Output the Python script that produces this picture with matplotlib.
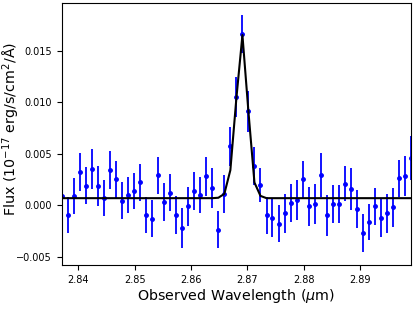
import numpy as np
import matplotlib
matplotlib.use("Agg")
import matplotlib.pyplot as plt

# observed wavelength (micron)
wave = [2.83710, 2.83817, 2.83924, 2.84030, 2.84137, 2.84244, 2.84351, 2.84457,
        2.84564, 2.84671, 2.84778, 2.84884, 2.84991, 2.85098, 2.85205, 2.85311,
        2.85418, 2.85525, 2.85632, 2.85738, 2.85845, 2.85952, 2.86059, 2.86165,
        2.86272, 2.86379, 2.86486, 2.86592, 2.86699, 2.86806, 2.86913, 2.87019,
        2.87126, 2.87233, 2.87340, 2.87446, 2.87553, 2.87660, 2.87767, 2.87873,
        2.87980, 2.88087, 2.88194, 2.88300, 2.88407, 2.88514, 2.88621, 2.88727,
        2.88834, 2.88941, 2.89048, 2.89154, 2.89261, 2.89368, 2.89475, 2.89581,
        2.89688, 2.89795, 2.89902]

# flux (1e-17 erg/s/cm2/A)
flux = [0.0009, -0.00094, 0.0009, 0.0032, 0.0019, 0.0035, 0.0019, 0.0007,
        0.0034, 0.0025, 0.00045, 0.0010, 0.0014, 0.0022, -0.00094, -0.0013,
        0.0029, 0.0003, 0.0012, -0.00094, -0.0022, -0.0001, 0.0014, 0.0010,
        0.0028, 0.0017, -0.0024, 0.0011, 0.0057, 0.0105, 0.0166, 0.0091,
        0.0038, 0.0020, -0.00097, -0.0012, -0.0018, -0.0008, 0.0002, 0.0005,
        0.0025, -0.0001, 0.0001, 0.0029, -0.0010, 0.0001, 0.0001, 0.0021,
        0.0016, -0.0004, -0.0027, -0.0016, -0.0001, -0.0012, -0.0008, -0.0002,
        0.0026, 0.0028, 0.0046]

err = [0.00186, 0.00175, 0.00175, 0.00183, 0.00183, 0.00196, 0.00194, 0.00178,
       0.00183, 0.00178, 0.00175, 0.00178, 0.00176, 0.00178, 0.00178, 0.00178,
       0.00178, 0.00181, 0.00178, 0.00183, 0.00191, 0.00189, 0.00184, 0.00173,
       0.00189, 0.00194, 0.00180, 0.00183, 0.00193, 0.00194, 0.00186, 0.00197,
       0.00184, 0.00165, 0.00178, 0.00184, 0.00181, 0.00186, 0.00186, 0.00194,
       0.00183, 0.00189, 0.00194, 0.00215, 0.00202, 0.00184, 0.00183, 0.00173,
       0.00202, 0.00186, 0.00181, 0.00173, 0.00181, 0.00191, 0.00188, 0.00191,
       0.00183, 0.00194, 0.00214]

# gaussian + continuum model evaluated on the same grid
cont = 0.00068
line_part = [0.00072, 0.0011, 0.0034, 0.0104, 0.0165, 0.0091, 0.0022, 0.0009]
model = [cont] * 26 + line_part + [cont] * 25

fig = plt.figure(figsize=(4.15, 3.11), dpi=100)
ax = fig.add_subplot(111)
fig.subplots_adjust(left=0.149, right=0.990, top=0.990, bottom=0.148)

ax.errorbar(wave, flux, yerr=err, fmt='o', color='blue', ms=2.5,
            elinewidth=1.3, capsize=0, zorder=2)
ax.plot(wave, model, color='black', lw=1.5, zorder=3)

ax.set_xlim(2.8371, 2.8990)
ax.set_ylim(-0.0058, 0.0196)
ax.set_xticks([2.84, 2.85, 2.86, 2.87, 2.88, 2.89])
ax.set_yticks([-0.005, 0.0, 0.005, 0.010, 0.015])
ax.tick_params(labelsize=7, length=3.5)

ax.set_xlabel(r'Observed Wavelength ($\mu$m)', fontsize=10.3, labelpad=2)
ax.set_ylabel(r'Flux (10$^{-17}$ erg/s/cm$^2$/Å)', fontsize=10.3)
ax.yaxis.set_label_coords(-0.115, 0.52)

plt.savefig('out.png', dpi=100)
